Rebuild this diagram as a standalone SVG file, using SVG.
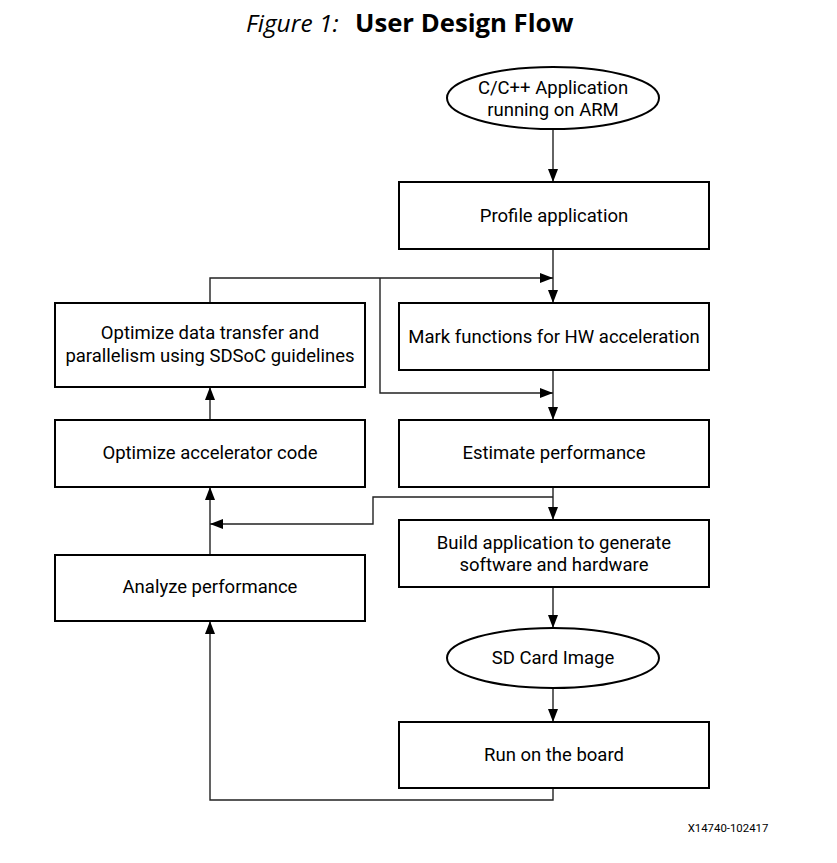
<svg xmlns="http://www.w3.org/2000/svg" width="837" height="863" viewBox="0 0 837 863">
<style>
.box{fill:#fff;stroke:#000;stroke-width:2}
.lbl{font-family:Roboto,"Liberation Sans",sans-serif;font-size:18.5px;fill:#000;text-anchor:middle}
.con{fill:none;stroke:#222;stroke-width:1.4}
</style>
<defs>
<marker id="ah" markerUnits="userSpaceOnUse" markerWidth="14" markerHeight="12" refX="13" refY="5" orient="auto">
<path d="M0,0 L13,5 L0,10 z" fill="#000"/>
</marker>
</defs>
<rect width="837" height="863" fill="#fff"/>
<g id="title">
<text x="246" y="32" font-family="'Open Sans','Noto Sans',sans-serif" font-size="24.5" font-style="italic" fill="#000">Figure 1:</text>
<text x="355" y="32" font-family="'Open Sans','Noto Sans',sans-serif" font-size="25.7" font-weight="bold" fill="#000">User Design Flow</text>
</g>
<g id="connectors">
<path class="con" d="M553,129 L553,182" marker-end="url(#ah)"/>
<path class="con" d="M553,249 L553,303" marker-end="url(#ah)"/>
<path class="con" d="M210,303 L210,278 L553,278" marker-end="url(#ah)"/>
<path class="con" d="M380,278 L380,393 L553,393" marker-end="url(#ah)"/>
<path class="con" d="M553,370 L553,420" marker-end="url(#ah)"/>
<path class="con" d="M210,420 L210,387" marker-end="url(#ah)"/>
<path class="con" d="M553,487 L553,520" marker-end="url(#ah)"/>
<path class="con" d="M553,497 L373,497 L373,524 L210,524" marker-end="url(#ah)"/>
<path class="con" d="M210,555 L210,487" marker-end="url(#ah)"/>
<path class="con" d="M553,587 L553,628" marker-end="url(#ah)"/>
<path class="con" d="M553,688 L553,722" marker-end="url(#ah)"/>
<path class="con" d="M553,788 L553,800 L210,800 L210,621" marker-end="url(#ah)"/>
</g>
<g id="start">
<ellipse class="box" cx="553" cy="98" rx="106" ry="31"/>
<text class="lbl" x="553" y="94">C/C++ Application</text>
<text class="lbl" x="553" y="116">running on ARM</text>
</g>
<g id="profile">
<rect class="box" x="399" y="182" width="310" height="67"/>
<text class="lbl" x="554" y="222">Profile application</text>
</g>
<g id="mark">
<rect class="box" x="399" y="303" width="310" height="67"/>
<text class="lbl" x="554" y="343">Mark functions for HW acceleration</text>
</g>
<g id="optdata">
<rect class="box" x="55" y="303" width="310" height="84"/>
<text class="lbl" x="210" y="339">Optimize data transfer and</text>
<text class="lbl" x="210" y="362">parallelism using SDSoC guidelines</text>
</g>
<g id="optaccel">
<rect class="box" x="55" y="420" width="310" height="67"/>
<text class="lbl" x="210" y="459">Optimize accelerator code</text>
</g>
<g id="estimate">
<rect class="box" x="399" y="420" width="310" height="67"/>
<text class="lbl" x="554" y="459">Estimate performance</text>
</g>
<g id="build">
<rect class="box" x="399" y="520" width="310" height="67"/>
<text class="lbl" x="554" y="549">Build application to generate</text>
<text class="lbl" x="554" y="571">software and hardware</text>
</g>
<g id="analyze">
<rect class="box" x="55" y="555" width="310" height="66"/>
<text class="lbl" x="210" y="593">Analyze performance</text>
</g>
<g id="sdcard">
<ellipse class="box" cx="553" cy="658" rx="106" ry="30"/>
<text class="lbl" x="553" y="664">SD Card Image</text>
</g>
<g id="run">
<rect class="box" x="399" y="722" width="310" height="66"/>
<text class="lbl" x="554" y="761">Run on the board</text>
</g>
<text x="728" y="832" font-family="Roboto,'Liberation Sans',sans-serif" font-size="11.4" fill="#000" text-anchor="middle">X14740-102417</text>
</svg>
